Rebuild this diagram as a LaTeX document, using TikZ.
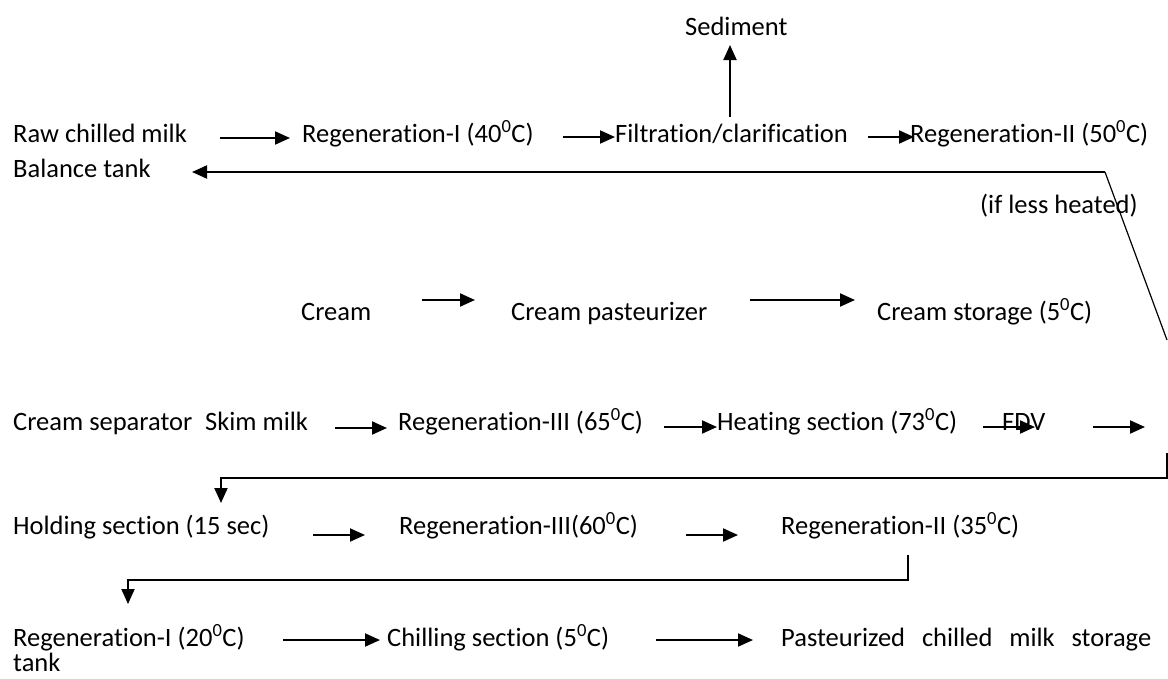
\documentclass[tikz,border=0pt]{standalone}
\usepackage{fontspec}
\setmainfont[Ligatures=NoCommon]{Carlito}
\usetikzlibrary{arrows.meta}
\newcommand{\dg}{\textsuperscript{0}}
\begin{document}
\begin{tikzpicture}[x=1pt,y=-1pt,
  txt/.style={anchor=base west,inner sep=0pt,font=\fontsize{26.5}{32}\selectfont},
  arr/.style={line width=2pt,-{Triangle[length=15pt,width=13pt]}},
  thin/.style={line width=1.2pt}]
\useasboundingbox[fill=white] (0,0) rectangle (1168,678);
% texts
\node[txt] (sed) at (685,35) {Sediment};
\node[txt] (raw) at (13,142) {Raw chilled milk};
\node[txt] (reg1) at (302,142) {Regeneration-I (40\dg C)};
\node[txt] (filt) at (615,142) {Filtration/clarification};
\node[txt] (reg2) at (910,142) {Regeneration-II (50\dg C)};
\node[txt] (bal) at (13,177) {Balance tank};
\node[txt] (less) at (980,213) {(if less heated)};
\node[txt] (cream) at (301,320) {Cream};
\node[txt] (cpast) at (511,320) {Cream pasteurizer};
\node[txt] (cstor) at (877,320) {Cream storage (5\dg C)};
\node[txt] (csep) at (13,430) {Cream separator};
\node[txt] (skim) at (205,430) {Skim milk};
\node[txt] (reg3) at (398,430) {Regeneration-III (65\dg C)};
\node[txt] (heat) at (717,430) {Heating section (73\dg C)};
\node[txt] (fdv) at (1002,430) {FDV};
\node[txt] (hold) at (13,534) {Holding section (15 sec)};
\node[txt] (reg3b) at (399,534) {Regeneration-III(60\dg C)};
\node[txt] (reg2b) at (781,534) {Regeneration-II (35\dg C)};
\node[txt] (reg1b) at (13,646) {Regeneration-I (20\dg C)};
\node[txt] (chill) at (387,646) {Chilling section (5\dg C)};
\node[txt] (past) at (781,646) {\makebox[370pt][s]{Pasteurized chilled milk storage}};
\node[txt] (tank) at (13,671) {tank};
% arrow end points
\coordinate (a1s) at (220,138); \coordinate (a1e) at (290,138);
\coordinate (a2s) at (563,137); \coordinate (a2e) at (615,137);
\coordinate (a3s) at (868,137); \coordinate (a3e) at (914,137);
\coordinate (sds) at (730,117); \coordinate (sde) at (730,45);
\coordinate (blk) at (1105,172); \coordinate (ble) at (192,172);
\coordinate (dge) at (1167,340);
\coordinate (c1s) at (422,300); \coordinate (c1e) at (475,300);
\coordinate (c2s) at (750,300); \coordinate (c2e) at (855,300);
\coordinate (s1s) at (335,428); \coordinate (s1e) at (387,428);
\coordinate (s2s) at (664,427); \coordinate (s2e) at (717,427);
\coordinate (s3s) at (983,427); \coordinate (s3e) at (1035,427);
\coordinate (s4s) at (1093,427); \coordinate (s4e) at (1145,427);
\coordinate (b1a) at (1167,453); \coordinate (b1b) at (1167,478);
\coordinate (b1c) at (221,478); \coordinate (b1d) at (221,503);
\coordinate (h1s) at (313,535); \coordinate (h1e) at (365,535);
\coordinate (h2s) at (686,535); \coordinate (h2e) at (738,535);
\coordinate (b2a) at (908,555); \coordinate (b2b) at (908,580);
\coordinate (b2c) at (128,580); \coordinate (b2d) at (128,604);
\coordinate (l1s) at (283,640); \coordinate (l1e) at (380,640);
\coordinate (l2s) at (656,640); \coordinate (l2e) at (753,640);
% connectors
\draw[arr] (a1s) -- (a1e);
\draw[arr] (a2s) -- (a2e);
\draw[arr] (a3s) -- (a3e);
\draw[arr] (sds) -- (sde);
\draw[arr] (blk) -- (ble);
\draw[thin] (blk) -- (dge);
\draw[arr] (c1s) -- (c1e);
\draw[arr] (c2s) -- (c2e);
\draw[arr] (s1s) -- (s1e);
\draw[arr] (s2s) -- (s2e);
\draw[arr] (s3s) -- (s3e);
\draw[arr] (s4s) -- (s4e);
\draw[arr] (b1a) -- (b1b) -- (b1c) -- (b1d);
\draw[arr] (h1s) -- (h1e);
\draw[arr] (h2s) -- (h2e);
\draw[arr] (b2a) -- (b2b) -- (b2c) -- (b2d);
\draw[arr] (l1s) -- (l1e);
\draw[arr] (l2s) -- (l2e);
\end{tikzpicture}
\end{document}
